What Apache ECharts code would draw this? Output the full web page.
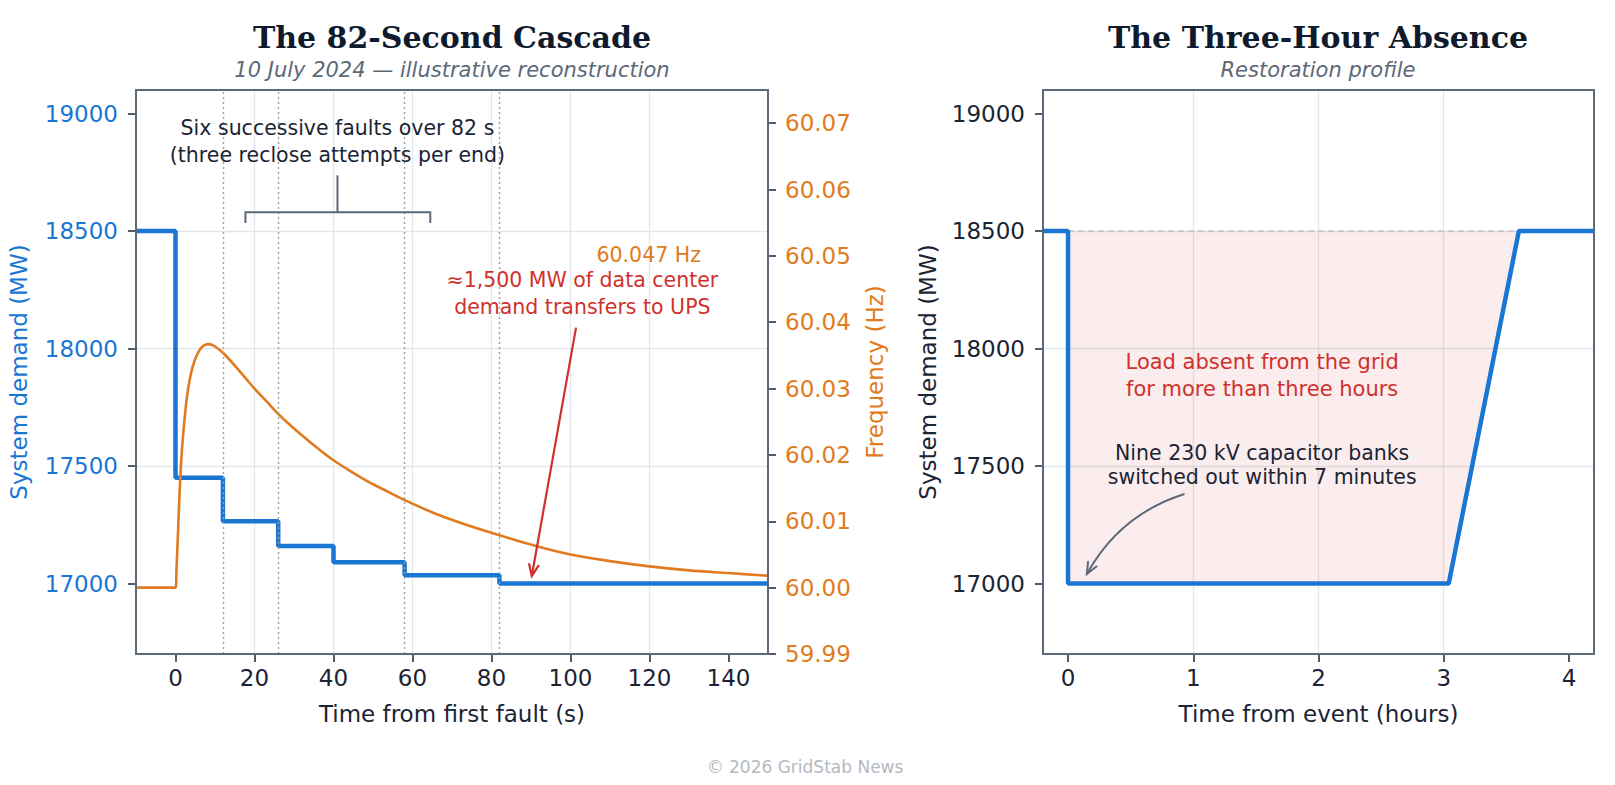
<!DOCTYPE html>
<html><head><meta charset="utf-8">
<script src="https://cdn.jsdelivr.net/npm/echarts@6/dist/echarts.min.js"></script>
<style>html,body{margin:0;padding:0;background:#fff}#c{width:1615px;height:785px}</style>
</head><body><div id="c"></div>
<script>
// ---------- data ----------
const cascadeStart = -10;
const cascadeEnd = 150;
const faultTimes = [0, 12, 26, 40, 58, 82];
const demandLevels = [18500, 17450, 17265, 17160, 17090, 17035, 17000];
const markedFaultTimes = [12, 26, 58, 82];

const freqTimes = [-10, 0, 0.25, 0.7, 1.1, 1.5, 2, 2.6, 3.2, 4, 4.9, 5.8, 6.6, 7.5, 8.3, 9.5, 11.2, 13, 15.4, 18, 20, 23, 26, 29, 32.3, 36, 40, 45, 49, 54, 58, 66, 74, 82, 90.6, 100, 110, 120, 130, 140, 150];
const freqValues = [60.0000, 60.0000, 60.0027, 60.0093, 60.0152, 60.0196, 60.0235, 60.0272, 60.0300, 60.0325, 60.0343, 60.0355, 60.0362, 60.0366, 60.0367, 60.0365, 60.0358, 60.0348, 60.0332, 60.0314, 60.0300, 60.0281, 60.0262, 60.0245, 60.0228, 60.0210, 60.0192, 60.0173, 60.0159, 60.0144, 60.0132, 60.0111, 60.0094, 60.0079, 60.0064, 60.0050, 60.0040, 60.0032, 60.0026, 60.0022, 60.0018];

const restoreTimes = [-0.2, 0, 0, 3.04, 3.6, 4.2];
const restoreDemand = [18500, 18500, 17000, 17000, 18500, 18500];
const gapTimes = [0, 3.04, 3.6];
const gapDemand = [17000, 17000, 18500];
const gapBaseline = 18500;

const cascadeXTicks = [0, 20, 40, 60, 80, 100, 120, 140];
const demandYTicks = [17000, 17500, 18000, 18500, 19000];
const freqYTicks = [59.99, 60.00, 60.01, 60.02, 60.03, 60.04, 60.05, 60.06, 60.07];
const hourXTicks = [0, 1, 2, 3, 4];

// ---------- styles ----------
const FONT = '"DejaVu Sans", sans-serif';
const SERIF = '"DejaVu Serif", serif';
const DARK = '#1b2434', TITLE = '#0f1b2d', SLATE = '#5d6878', BLUE = '#1976d2', ORANGE = '#e07b20', RED = '#d0312d', GRIDC = '#e3e6ea';

function stepPoints(start, end, times, levels) {
  const pts = [[start, levels[0]]];
  times.forEach((t, i) => { pts.push([t, levels[i]]); pts.push([t, levels[i + 1]]); });
  pts.push([end, levels[levels.length - 1]]);
  return pts;
}
const zip = (a, b) => a.map((v, i) => [v, b[i]]);
const plain = v => String(Math.round(v * 1000) / 1000);

function xAxisCfg(gi, min, max, split, ticks, name) {
  return {
    type: 'value', gridIndex: gi, min, max, splitNumber: split,
    name, nameLocation: 'middle', nameGap: 48,
    nameTextStyle: { color: DARK, fontSize: 23, fontFamily: FONT },
    axisLine: { show: false, onZero: false },
    axisTick: { show: true, inside: false, length: 8, customValues: ticks, lineStyle: { color: DARK, width: 1.5 } },
    axisLabel: { color: DARK, fontSize: 23, fontFamily: FONT, margin: 12, customValues: ticks, showMinLabel: true, showMaxLabel: true, formatter: plain },
    splitLine: { show: true, showMinLine: false, showMaxLine: false, lineStyle: { color: GRIDC, width: 1.3 } }
  };
}
function demandYAxis(gi, color, gap) {
  return {
    type: 'value', gridIndex: gi, min: 16700, max: 19100, splitNumber: 5, position: 'left',
    name: 'System demand (MW)', nameLocation: 'middle', nameGap: gap, nameRotate: 90,
    nameTextStyle: { color, fontSize: 23, fontFamily: FONT },
    axisLine: { show: false, onZero: false },
    axisTick: { show: true, inside: false, length: 8, customValues: demandYTicks, lineStyle: { color: DARK, width: 1.5 } },
    axisLabel: { color, fontSize: 23, fontFamily: FONT, margin: 18, customValues: demandYTicks, showMinLabel: true, showMaxLabel: true, formatter: plain },
    splitLine: { show: true, showMinLine: false, showMaxLine: false, lineStyle: { color: GRIDC, width: 1.3 } }
  };
}

const chart = echarts.init(document.getElementById('c'), null, { renderer: 'svg', width: 1615, height: 785 });

const option = {
  animation: false,
  backgroundColor: '#ffffff',
  textStyle: { fontFamily: FONT },
  title: [
    { text: 'The 82-Second Cascade', left: 452, top: 19, textAlign: 'center', padding: 0,
      textStyle: { fontFamily: SERIF, fontWeight: 'bold', fontSize: 30, color: TITLE, lineHeight: 36 } },
    { text: '10 July 2024 — illustrative reconstruction', left: 452, top: 57, textAlign: 'center', padding: 0,
      textStyle: { fontFamily: FONT, fontStyle: 'italic', fontWeight: 'normal', fontSize: 21, color: SLATE, lineHeight: 26 } },
    { text: 'The Three-Hour Absence', left: 1318, top: 19, textAlign: 'center', padding: 0,
      textStyle: { fontFamily: SERIF, fontWeight: 'bold', fontSize: 30, color: TITLE, lineHeight: 36 } },
    { text: 'Restoration profile', left: 1318, top: 57, textAlign: 'center', padding: 0,
      textStyle: { fontFamily: FONT, fontStyle: 'italic', fontWeight: 'normal', fontSize: 21, color: SLATE, lineHeight: 26 } }
  ],
  grid: [
    { left: 136, top: 90, width: 632, height: 564, containLabel: false, outerBoundsMode: 'none' },
    { left: 1043, top: 90, width: 551, height: 564, containLabel: false, outerBoundsMode: 'none' }
  ],
  xAxis: [
    xAxisCfg(0, cascadeStart, cascadeEnd, 8, cascadeXTicks, 'Time from first fault (s)'),
    xAxisCfg(1, -0.2, 4.2, 4, hourXTicks, 'Time from event (hours)')
  ],
  yAxis: [
    demandYAxis(0, BLUE, 106),
    {
      type: 'value', gridIndex: 0, min: 59.99, max: 60.075, splitNumber: 8, position: 'right',
      name: 'Frequency (Hz)', nameLocation: 'middle', nameGap: 95, nameRotate: 90,
      nameTextStyle: { color: ORANGE, fontSize: 23, fontFamily: FONT },
      axisLine: { show: false, onZero: false },
      axisTick: { show: true, inside: false, length: 8, customValues: freqYTicks, lineStyle: { color: DARK, width: 1.5 } },
      axisLabel: { color: ORANGE, fontSize: 23, fontFamily: FONT, margin: 17, customValues: freqYTicks,
        showMinLabel: true, showMaxLabel: true, formatter: v => Number(v).toFixed(2) },
      splitLine: { show: false }
    },
    demandYAxis(1, DARK, 104)
  ],
  series: [
    {
      name: 'Demand gap', type: 'custom', xAxisIndex: 1, yAxisIndex: 2, z: 1, silent: true,
      data: [[gapTimes[0], gapBaseline]],
      renderItem: (params, api) => {
        const pts = gapTimes.map((t, i) => api.coord([t, gapDemand[i]]));
        for (let i = gapTimes.length - 1; i >= 0; i--) pts.push(api.coord([gapTimes[i], gapBaseline]));
        return { type: 'polygon', shape: { points: pts }, style: { fill: 'rgba(208,49,45,0.085)', stroke: null } };
      }
    },
    {
      name: 'System demand', type: 'line', xAxisIndex: 0, yAxisIndex: 0, z: 3,
      data: stepPoints(cascadeStart, cascadeEnd, faultTimes, demandLevels),
      showSymbol: false, symbol: 'none', lineStyle: { color: BLUE, width: 4.5 }, itemStyle: { color: BLUE },
      emphasis: { disabled: true },
      markLine: {
        silent: true, symbol: ['none', 'none'], label: { show: false },
        lineStyle: { color: '#9aa0a8', width: 1.4, type: [2, 3] },
        emphasis: { disabled: true },
        data: markedFaultTimes.map(t => ({ xAxis: t }))
      }
    },
    {
      name: 'Frequency', type: 'line', xAxisIndex: 0, yAxisIndex: 1, z: 4,
      data: zip(freqTimes, freqValues), smooth: 0.35,
      showSymbol: false, symbol: 'none', lineStyle: { color: ORANGE, width: 2.6 }, itemStyle: { color: ORANGE },
      emphasis: { disabled: true }
    },
    {
      name: 'pre-event level', type: 'line', xAxisIndex: 1, yAxisIndex: 2, z: 2,
      data: [[gapTimes[0], gapBaseline], [gapTimes[gapTimes.length - 1], gapBaseline]],
      showSymbol: false, symbol: 'none', lineStyle: { color: '#bfc3ca', width: 1.4, type: [6, 4] },
      emphasis: { disabled: true }
    },
    {
      name: 'System demand (restoration)', type: 'line', xAxisIndex: 1, yAxisIndex: 2, z: 3,
      data: zip(restoreTimes, restoreDemand), showSymbol: false, symbol: 'none',
      lineStyle: { color: BLUE, width: 4.5 }, itemStyle: { color: BLUE }, emphasis: { disabled: true }
    }
  ]
};
chart.setOption(option);

// ---------- annotations (data coordinates) ----------
const cascadeNote = { at: [41, 18882], text: 'Six successive faults over 82 s\n(three reclose attempts per end)' };
const bracket = { x0: 17.7, x1: 64.5, yTop: 18580, yBottom: 18534, stemX: 41, stemTop: 18737 };
const peakLabel = { at: [119.8, 18396], text: '60.047 Hz' };
const upsNote = { at: [103, 18236], text: '≈1,500 MW of data center\ndemand transfers to UPS' };
const upsArrow = { from: [101.4, 18089], to: [90.2, 17032] };
const absentNote = { at: [1.55, 17883], text: 'Load absent from the grid\nfor more than three hours' };
const capNote = { at: [1.55, 17503], text: 'Nine 230 kV capacitor banks\nswitched out within 7 minutes' };
const capArrow = { from: [0.93, 17381], to: [0.15, 17040], rad: 0.2 };

const L = p => chart.convertToPixel({ xAxisIndex: 0, yAxisIndex: 0 }, p);
const R = p => chart.convertToPixel({ xAxisIndex: 1, yAxisIndex: 2 }, p);

function textEl(p, text, color, size, lh) {
  return { type: 'text', x: p[0], y: p[1], z: 20, silent: true,
    style: { text, fill: color, font: size + 'px "DejaVu Sans", sans-serif', align: 'center', verticalAlign: 'middle', lineHeight: lh } };
}
function lineEl(a, b, color, w) {
  return { type: 'line', z: 20, silent: true, shape: { x1: a[0], y1: a[1], x2: b[0], y2: b[1] }, style: { stroke: color, lineWidth: w } };
}
function headEl(tip, from, len, ang, color, w) {
  const a = Math.atan2(tip[1] - from[1], tip[0] - from[0]);
  const p1 = [tip[0] - len * Math.cos(a - ang), tip[1] - len * Math.sin(a - ang)];
  const p2 = [tip[0] - len * Math.cos(a + ang), tip[1] - len * Math.sin(a + ang)];
  return { type: 'polyline', z: 20, silent: true, shape: { points: [p1, tip, p2] }, style: { stroke: color, lineWidth: w, fill: null } };
}
function frameEl(conv, x0, x1, y0, y1) {
  const a = conv([x0, y1]), b = conv([x1, y0]);
  return { type: 'rect', z: 30, silent: true, shape: { x: a[0], y: a[1], width: b[0] - a[0], height: b[1] - a[1] },
    style: { fill: null, stroke: SLATE, lineWidth: 2 } };
}

const g = [];
g.push(frameEl(L, cascadeStart, cascadeEnd, 16700, 19100));
g.push(frameEl(R, -0.2, 4.2, 16700, 19100));
g.push(textEl(L(cascadeNote.at), cascadeNote.text, DARK, 20.5, 27));
const bl = L([bracket.x0, bracket.yBottom]), bt = L([bracket.x0, bracket.yTop]), br = L([bracket.x1, bracket.yTop]), bb = L([bracket.x1, bracket.yBottom]);
g.push({ type: 'polyline', z: 20, silent: true, shape: { points: [bl, bt, br, bb] }, style: { stroke: SLATE, lineWidth: 2, fill: null } });
g.push(lineEl(L([bracket.stemX, bracket.yTop]), L([bracket.stemX, bracket.stemTop]), SLATE, 2));
g.push(textEl(L(peakLabel.at), peakLabel.text, ORANGE, 20.5, 26));
g.push(textEl(L(upsNote.at), upsNote.text, RED, 20.5, 27));
const ua = L(upsArrow.from), ub = L(upsArrow.to);
g.push(lineEl(ua, ub, RED, 2.2));
g.push(headEl(ub, ua, 13, 0.4, RED, 2.2));
g.push(textEl(R(absentNote.at), absentNote.text, RED, 21, 27));
g.push(textEl(R(capNote.at), capNote.text, DARK, 20.5, 24));
const ca = R(capArrow.from), cb = R(capArrow.to);
const cm = [(ca[0] + cb[0]) / 2 - capArrow.rad * (cb[1] - ca[1]), (ca[1] + cb[1]) / 2 + capArrow.rad * (cb[0] - ca[0])];
g.push({ type: 'bezierCurve', z: 20, silent: true, shape: { x1: ca[0], y1: ca[1], x2: cb[0], y2: cb[1], cpx1: cm[0], cpy1: cm[1] },
  style: { stroke: SLATE, lineWidth: 2, fill: null } });
g.push(headEl(cb, cm, 13, 0.4, SLATE, 2));
g.push({ type: 'text', x: 805, y: 767, z: 20, silent: true,
  style: { text: '© 2026 GridStab News', fill: '#b4b9c1', font: '17px "DejaVu Sans", sans-serif', align: 'center', verticalAlign: 'middle' } });

chart.setOption({ graphic: g });
</script>
</body></html>
